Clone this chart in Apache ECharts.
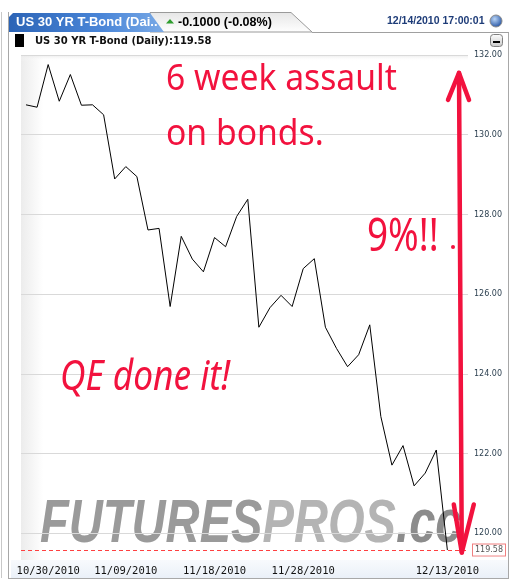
<!DOCTYPE html>
<html><head><meta charset="utf-8">
<script src="https://cdn.jsdelivr.net/npm/echarts@6/dist/echarts.min.js"></script>
<style>html,body{margin:0;padding:0;background:#fff}#c{width:510px;height:580px}</style>
</head><body><div id="c"></div>
<script>
// ---- data ----
const categories = ["10/28/2010","10/29/2010","10/30/2010","11/01/2010","11/02/2010","11/03/2010","11/04/2010","11/05/2010","11/08/2010","11/09/2010",
  "11/10/2010","11/11/2010","11/12/2010","11/14/2010","11/15/2010","11/16/2010","11/17/2010","11/18/2010","11/19/2010","11/21/2010",
  "11/22/2010","11/23/2010","11/24/2010","11/25/2010","11/26/2010","11/28/2010","11/29/2010","11/30/2010","12/01/2010","12/02/2010",
  "12/03/2010","12/05/2010","12/06/2010","12/07/2010","12/08/2010","12/09/2010","12/10/2010","12/12/2010","12/13/2010"];
const prices = [130.75,130.69,131.76,130.84,131.51,130.74,130.75,130.50,128.89,129.20,
  128.95,127.61,127.65,125.69,127.45,126.88,126.56,127.42,127.19,127.95,
  128.38,125.17,125.66,125.97,125.69,126.64,126.89,125.17,124.64,124.18,
  124.48,125.23,122.93,121.71,122.20,121.19,121.51,122.09,119.58];
const yTicks = [120,122,124,126,128,130,132];
const xLabelIdx = [2,9,17,25,38];
const lastPrice = 119.58;
const arrowTop = 131.55, arrowBottom = 119.52, arrowX = 39.05;

const RED = '#f2123e';
const chart = echarts.init(document.getElementById('c'), null, {renderer:'canvas'});

const headerGraphics = [
  // outer borders
  {type:'line', shape:{x1:1.5,y1:12,x2:1.5,y2:578}, style:{stroke:'#c8c8c8',lineWidth:1}},
  {type:'line', shape:{x1:8.5,y1:12,x2:8.5,y2:578}, style:{stroke:'#a8a8a8',lineWidth:1}},
  {type:'line', shape:{x1:508.5,y1:32,x2:508.5,y2:578}, style:{stroke:'#a8a8a8',lineWidth:1}},
  {type:'line', shape:{x1:8,y1:578.5,x2:509,y2:578.5}, style:{stroke:'#a8a8a8',lineWidth:1}},
  // tab light part
  {type:'polygon', shape:{points:[[150,12.5],[291,12.5],[312,32],[150,32]]},
    style:{fill:{type:'linear',x:0,y:0,x2:0,y2:1,colorStops:[{offset:0,color:'#e6e6e6'},{offset:1,color:'#ffffff'}]},stroke:'#9a9a9a',lineWidth:1}},
  {type:'line', shape:{x1:312,y1:32.5,x2:509,y2:32.5}, style:{stroke:'#a0a0a0',lineWidth:1}},
  // tab blue part
  {type:'polygon', shape:{points:[[9,32],[9,17],[13,13],[150,13],[164,32]]},
    style:{fill:{type:'linear',x:0,y:0,x2:1,y2:0,colorStops:[{offset:0,color:'#2c64b6'},{offset:0.6,color:'#4a86d8'},{offset:1,color:'#7aaae6'}]}}},
  {type:'text', x:16, y:22.5, style:{text:'US 30 YR T-Bond (Dai..', font:'bold 13px "Liberation Sans"', fill:'#ffffff', verticalAlign:'middle'}},
  {type:'polygon', shape:{points:[[166,23.5],[174,23.5],[170,19]]}, style:{fill:'#2e9d2e'}},
  {type:'text', x:178, y:22.5, style:{text:'-0.1000 (-0.08%)', font:'bold 12.5px "Liberation Sans"', fill:'#000', verticalAlign:'middle'}},
  {type:'text', x:387, y:21.5, style:{text:'12/14/2010 17:00:01', font:'bold 10.5px "Liberation Sans"', fill:'#1e3c78', verticalAlign:'middle'}},
  {type:'circle', shape:{cx:496,cy:21,r:6}, style:{fill:{type:'radial',x:0.4,y:0.35,r:0.7,colorStops:[{offset:0,color:'#b8d4f6'},{offset:1,color:'#1a4a9c'}]},stroke:'#8a8a8a',lineWidth:1}},
  // second row
  {type:'rect', shape:{x:15,y:34,width:9,height:13}, style:{fill:'#000'}},
  {type:'text', x:35, y:41, style:{text:'US 30 YR T-Bond (Daily):119.58', font:'bold 10px "DejaVu Sans"', fill:'#111', verticalAlign:'middle'}},
  {type:'rect', shape:{x:490.5,y:34.5,width:12,height:12,r:3}, style:{fill:{type:'linear',x:0,y:0,x2:0,y2:1,colorStops:[{offset:0,color:'#ffffff'},{offset:1,color:'#c8c8c8'}]},stroke:'#808080',lineWidth:1}},
  {type:'rect', shape:{x:493,y:41,width:7,height:2}, style:{fill:'#000'}},
  // plot background
  {type:'rect', z:-10, shape:{x:21,y:55,width:447,height:505}, style:{fill:{type:'linear',x:0,y:0,x2:1,y2:0,colorStops:[{offset:0,color:'#ececec'},{offset:0.05,color:'#ffffff'},{offset:1,color:'#ffffff'}]}}},
  {type:'rect', z:-9, shape:{x:21,y:55,width:447,height:6}, style:{fill:{type:'linear',x:0,y:0,x2:0,y2:1,colorStops:[{offset:0,color:'rgba(230,230,230,0.8)'},{offset:1,color:'rgba(255,255,255,0)'}]}}},
  {type:'rect', z:-10, shape:{x:11,y:560,width:497,height:18}, style:{fill:{type:'linear',x:0,y:0,x2:0,y2:1,colorStops:[{offset:0,color:'#f8fafd'},{offset:1,color:'#eaf0f8'}]}}},
  // watermark
  {type:'text', z:-5, x:40, y:525, scaleX:0.76, originX:0, originY:0,
    style:{text:'{a|FUTURES}{b|PROS}{c|.cc}', font:'italic bold 62px "Liberation Sans"', verticalAlign:'middle',
      rich:{a:{fill:'#9a9a9a',font:'italic bold 62px "Liberation Sans"'},b:{fill:'#b4b4b4',font:'italic bold 62px "Liberation Sans"'},c:{fill:'#8c8c8c',font:'italic bold 62px "Liberation Sans"'}}}},
  // annotations
  {type:'text', z:50, x:166, y:79, scaleX:0.91, originX:0, originY:0, style:{text:'6 week assault', font:'37px "Noto Sans"', fill:RED, verticalAlign:'middle'}},
  {type:'text', z:50, x:166, y:134, scaleX:0.91, originX:0, originY:0, style:{text:'on bonds.', font:'37px "Noto Sans"', fill:RED, verticalAlign:'middle'}},
  {type:'text', z:50, x:367, y:238, scaleX:0.82, originX:0, originY:0, style:{text:'9%!!', font:'45px "Noto Sans"', fill:RED, verticalAlign:'middle'}},
  {type:'circle', z:50, shape:{cx:453,cy:247,r:2}, style:{fill:RED}},
  {type:'text', z:50, x:60, y:378, scaleX:0.84, originX:0, originY:0, style:{text:'QE done it!', font:'italic 42px "Noto Sans"', fill:RED, verticalAlign:'middle'}}
];

const option = {
  animation:false,
  backgroundColor:'#ffffff',
  grid:{left:21, right:42, top:55, bottom:20},
  xAxis:{type:'value', min:-0.45, max:39.86,
    axisLine:{show:false}, axisTick:{show:false, customValues:xLabelIdx}, splitLine:{show:false},
    axisLabel:{customValues:xLabelIdx, formatter:(v)=>categories[Math.round(v)], fontFamily:'DejaVu Sans Mono', fontSize:10.5, color:'#111', margin:6}},
  yAxis:{type:'value', position:'right', min:119.33, max:132,
    axisLine:{show:false}, axisTick:{show:false, customValues:yTicks},
    splitLine:{show:true, lineStyle:{color:'#d9d9d9', width:1}},
    axisLabel:{customValues:yTicks, formatter:(v)=>v.toFixed(2), fontFamily:'DejaVu Sans', fontSize:8, color:'#2b3f4f', margin:6}},
  graphic:headerGraphics,
  series:[{type:'line', data:prices.map((p,i)=>[i,p]), symbol:'none', z:5,
    lineStyle:{color:'#000', width:1},
    markLine:{silent:true, symbol:'none', data:[{yAxis:lastPrice}],
      lineStyle:{color:'#ff4040', type:[4,3], width:1},
      label:{position:'end', distance:5, formatter:()=>lastPrice.toFixed(2), fontFamily:'DejaVu Sans', fontSize:8, color:'#555',
        backgroundColor:'#fff', borderColor:'#f08080', borderWidth:1, padding:[2,2,1,2]}}}]
};
chart.setOption(option);

// red double arrow, positioned through the axes
const pT = chart.convertToPixel({gridIndex:0}, [arrowX, arrowTop]);
const pB = chart.convertToPixel({gridIndex:0}, [arrowX + 0.25, arrowBottom]);
const arrowStyle = {stroke:RED, lineWidth:4.5, lineCap:'round', lineJoin:'round', fill:null};
chart.setOption({graphic: headerGraphics.concat([
  {type:'line', z:100, shape:{x1:pT[0], y1:pT[1], x2:pB[0], y2:pB[1]}, style:arrowStyle},
  {type:'polyline', z:100, shape:{points:[[pT[0]-11, pT[1]+27],[pT[0], pT[1]],[pT[0]+10, pT[1]+27]]}, style:arrowStyle},
  {type:'polyline', z:100, shape:{points:[[pB[0]-8, pB[1]-48],[pB[0], pB[1]],[pB[0]+12, pB[1]-48]]}, style:arrowStyle}
])}, {replaceMerge:['graphic']});
</script></body></html>
